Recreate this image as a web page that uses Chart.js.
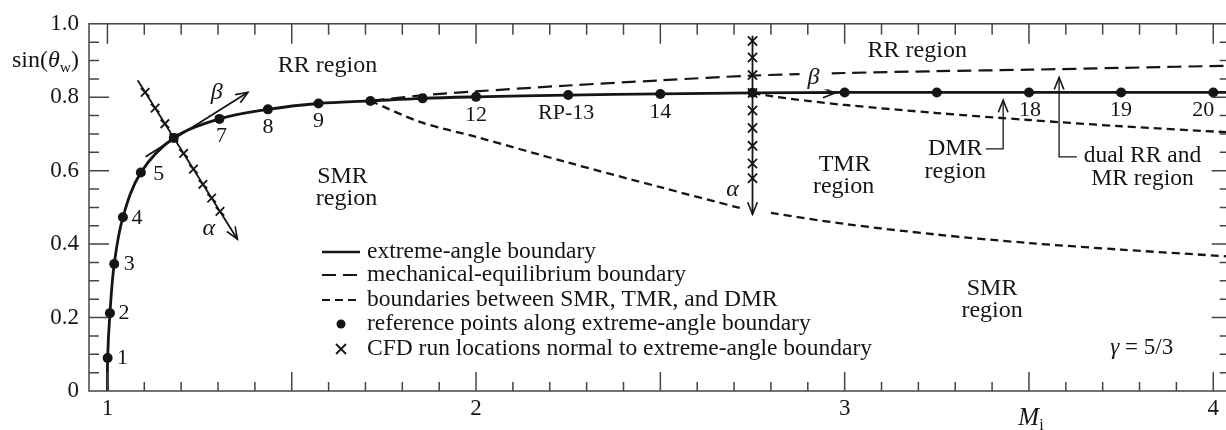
<!DOCTYPE html>
<html>
<head>
<meta charset="utf-8">
<script src="https://cdn.jsdelivr.net/npm/chart.js@4.4.0/dist/chart.umd.min.js"></script>
<style>
html, body { margin: 0; padding: 0; overflow: hidden; background: #fff; }
#wrap { position: relative; width: 1240px; height: 430px; }
</style>
</head>
<body>
<div id="wrap"><canvas id="machChart"></canvas></div>
<script>
// reference points along the extreme-angle boundary
var refNames = ['1', '2', '3', '4', '5', '', '7', '8', '9', '', '', '12', 'RP-13', '14', '', '', '', '18', '19', '20'];
var refM   = [1.0005, 1.0068, 1.0184, 1.042, 1.0907, 1.18, 1.3038, 1.4354, 1.5726, 1.7134, 1.855, 2.0, 2.25, 2.5, 2.75, 3.0, 3.25, 3.5, 3.75, 4.0];
var refSin = [0.090, 0.212, 0.346, 0.473, 0.595, 0.689, 0.741, 0.767, 0.783, 0.790, 0.797, 0.801, 0.806, 0.809, 0.812, 0.813, 0.813, 0.813, 0.813, 0.813];

// extreme-angle boundary (solid)
var extremeM   = [1.0].concat(refM, [4.05]);
var extremeSin = [0].concat(refSin, [0.813]);

// mechanical-equilibrium boundary (long dash)
var mechM   = [1.7134, 1.85, 2.0, 2.25, 2.5, 2.75, 3.0, 3.25, 3.5, 3.75, 4.05];
var mechSin = [0.790, 0.805, 0.816, 0.832, 0.846, 0.859, 0.866, 0.871, 0.875, 0.880, 0.886];

// SMR / TMR boundary (short dash), broken at the alpha arrow
var smrM   = [1.7134, 1.85, 2.0, 2.25, 2.5, 2.717, 2.75, 2.80, 3.0, 3.25, 3.5, 3.75, 4.05];
var smrSin = [0.790, 0.732, 0.692, 0.622, 0.555, 0.498, null, 0.485, 0.455, 0.426, 0.403, 0.385, 0.366];

// TMR / DMR boundary (short dash)
var dmrM   = [2.75, 2.8, 2.9, 3.0, 3.25, 3.5, 3.75, 4.05];
var dmrSin = [0.812, 0.803, 0.790, 0.779, 0.757, 0.738, 0.721, 0.704];

// CFD run locations normal to the boundary
var cfdSlantM   = [1.1022, 1.1293, 1.1558, 1.18, 1.2066, 1.2334, 1.2591, 1.2827, 1.3053];
var cfdSlantSin = [0.8135, 0.7703, 0.7278, 0.6892, 0.6468, 0.6041, 0.5630, 0.5251, 0.4892];
var cfdVertM    = [2.75, 2.75, 2.75, 2.75, 2.75, 2.75, 2.75, 2.75, 2.75];
var cfdVertSin  = [0.9532, 0.9081, 0.8603, 0.8116, 0.764, 0.7162, 0.6676, 0.6197, 0.5792];

// axis ticks
var xTicks = [];
for (var i = 10; i <= 40; i++) xTicks.push(i / 10);
var yTicks = [];
for (var j = 0; j <= 20; j++) yTicks.push(j / 20);

function pts(xs, ys) {
    return xs.map(function (x, k) { return { x: x, y: ys[k] }; });
}

var FONT = '"Liberation Serif", "Times New Roman", serif';
var INK = '#151515';

// annotations, in data units
var arrows = [
    { w: 1.8, p: [[1.082, 0.846], [1.3527, 0.4135]] },
    { w: 1.8, p: [[1.1034, 0.6378], [1.3812, 0.8135]] },
    { w: 1.8, p: [[2.75, 0.9676], [2.75, 0.4811]] },
    { w: 1.8, p: [[2.75, 0.8116], [2.974, 0.8116]] },
    { w: 1.3, p: [[3.383, 0.6595], [3.43, 0.6595], [3.43, 0.792]] },
    { w: 1.3, p: [[3.63, 0.6378], [3.5817, 0.6378], [3.5817, 0.854]] }
];
var texts = [
    { t: 'RR region', x: 1.597, y: 0.8865 },
    { t: 'SMR', x: 1.6377, y: 0.5838 },
    { t: 'region', x: 1.6485, y: 0.5243 },
    { t: 'RR region', x: 3.197, y: 0.927 },
    { t: 'TMR', x: 3.0, y: 0.6162 },
    { t: 'region', x: 2.997, y: 0.5568 },
    { t: 'DMR', x: 3.30, y: 0.6595 },
    { t: 'region', x: 3.30, y: 0.5973 },
    { t: 'dual RR and', x: 3.808, y: 0.6405, s: 23.5 },
    { t: 'MR region', x: 3.808, y: 0.5784, s: 23.5 },
    { t: 'SMR', x: 3.4, y: 0.2784 },
    { t: 'region', x: 3.4, y: 0.2189 },
    { t: 'α', x: 1.275, y: 0.443, it: true },
    { t: 'α', x: 2.696, y: 0.5486, it: true },
    { t: 'β', x: 1.2966, y: 0.8135, it: true },
    { t: 'β', x: 2.9156, y: 0.854, it: true, bg: true }
];
var labelOffsets = {
    '1': [15, 0], '2': [14, 0], '3': [15, 0], '4': [14, 1], '5': [18, 2],
    '7': [2, 17], '8': [0, 18], '9': [0, 18], '12': [0, 18], 'RP-13': [-2, 18],
    '14': [0, 18], '18': [1, 18], '19': [0, 18], '20': [-10, 18]
};

function drawParts(ctx, parts, x, y, size, align) {
    var total = 0;
    parts.forEach(function (p) {
        var s = p.sub ? size * 0.65 : size;
        ctx.font = (p.it ? 'italic ' : '') + s + 'px ' + FONT;
        p.w = ctx.measureText(p.t).width;
        total += p.w;
    });
    var cx = align === 'right' ? x - total : (align === 'left' ? x : x - total / 2);
    ctx.textAlign = 'left';
    ctx.textBaseline = 'middle';
    parts.forEach(function (p) {
        var s = p.sub ? size * 0.65 : size;
        ctx.font = (p.it ? 'italic ' : '') + s + 'px ' + FONT;
        ctx.fillText(p.t, cx, p.sub ? y + size * 0.3 : y);
        cx += p.w;
    });
}

function arrowHead(ctx, x0, y0, x1, y1) {
    var a = Math.atan2(y1 - y0, x1 - x0), L = 13, w = 0.38;
    ctx.beginPath();
    ctx.moveTo(x1 - L * Math.cos(a - w), y1 - L * Math.sin(a - w));
    ctx.lineTo(x1, y1);
    ctx.lineTo(x1 - L * Math.cos(a + w), y1 - L * Math.sin(a + w));
    ctx.stroke();
}

var decorPlugin = {
    id: 'decor',
    afterDatasetsDraw: function (chart) {
        var ctx = chart.ctx, xs = chart.scales.x, ys = chart.scales.y, a = chart.chartArea;
        ctx.save();

        // frame and inward ticks on all four sides
        ctx.strokeStyle = '#444';
        ctx.lineWidth = 1.5;
        ctx.strokeRect(a.left, a.top, a.right - a.left, a.bottom - a.top);
        ctx.beginPath();
        xTicks.forEach(function (v) {
            var px = xs.getPixelForValue(v);
            var len = Math.abs(v * 2 - Math.round(v * 2)) < 1e-6 ? 19 : 9;
            ctx.moveTo(px, a.bottom); ctx.lineTo(px, a.bottom - len);
            ctx.moveTo(px, a.top); ctx.lineTo(px, a.top + (len === 19 ? 20 : 11));
        });
        yTicks.forEach(function (v) {
            if (v === 0 || v === 1) return;
            var py = ys.getPixelForValue(v);
            var len = Math.abs(v * 5 - Math.round(v * 5)) < 1e-6 ? 20 : 10;
            ctx.moveTo(a.left, py); ctx.lineTo(a.left + len, py);
            ctx.moveTo(a.right, py); ctx.lineTo(a.right - (len === 20 ? 20 : 12), py);
        });
        ctx.stroke();

        // arrows
        ctx.strokeStyle = INK;
        arrows.forEach(function (ar) {
            ctx.lineWidth = ar.w;
            var p = ar.p.map(function (q) { return [xs.getPixelForValue(q[0]), ys.getPixelForValue(q[1])]; });
            ctx.beginPath();
            ctx.moveTo(p[0][0], p[0][1]);
            for (var k = 1; k < p.length; k++) ctx.lineTo(p[k][0], p[k][1]);
            ctx.stroke();
            var n = p.length;
            ctx.lineWidth = 1.6;
            arrowHead(ctx, p[n - 2][0], p[n - 2][1], p[n - 1][0], p[n - 1][1]);
        });

        // region texts
        ctx.fillStyle = INK;
        texts.forEach(function (t) {
            var px = xs.getPixelForValue(t.x), py = ys.getPixelForValue(t.y);
            if (t.bg) {
                ctx.fillStyle = '#fff';
                ctx.fillRect(px - 14, py - 12, 28, 24);
                ctx.fillStyle = INK;
            }
            drawParts(ctx, [{ t: t.t, it: t.it }], px, py, t.s || 24, 'center');
        });
        drawParts(ctx, [{ t: 'γ', it: true }, { t: ' = 5/3' }], xs.getPixelForValue(3.806), ys.getPixelForValue(0.1162), 23, 'center');

        // reference point numbers
        refNames.forEach(function (name, k) {
            if (!name) return;
            var off = labelOffsets[name];
            drawParts(ctx, [{ t: name }], xs.getPixelForValue(refM[k]) + off[0], ys.getPixelForValue(refSin[k]) + off[1], 22, 'center');
        });

        // axis titles
        drawParts(ctx, [{ t: 'sin(' }, { t: 'θ', it: true }, { t: 'w', sub: true }, { t: ')' }], 79, ys.getPixelForValue(0.9), 24, 'right');
        drawParts(ctx, [{ t: 'M', it: true }, { t: 'i', sub: true }], 1031, 418, 25, 'center');

        // legend
        var lx0 = 322, lx1 = 360, tx = 367, rows = [252, 275, 300, 324, 349];
        var names = ['extreme-angle boundary', 'mechanical-equilibrium boundary',
            'boundaries between SMR, TMR, and DMR', 'reference points along extreme-angle boundary',
            'CFD run locations normal to extreme-angle boundary'];
        ctx.strokeStyle = INK;
        [[], [14, 7], [8, 5]].forEach(function (d, k) {
            ctx.setLineDash(d);
            ctx.lineWidth = k === 0 ? 2.6 : 2.2;
            ctx.beginPath();
            ctx.moveTo(lx0, rows[k]); ctx.lineTo(lx1, rows[k]);
            ctx.stroke();
        });
        ctx.setLineDash([]);
        ctx.beginPath();
        ctx.arc(341, rows[3], 4.5, 0, Math.PI * 2);
        ctx.fill();
        ctx.lineWidth = 1.8;
        ctx.beginPath();
        ctx.moveTo(336, rows[4] - 5); ctx.lineTo(346, rows[4] + 5);
        ctx.moveTo(346, rows[4] - 5); ctx.lineTo(336, rows[4] + 5);
        ctx.stroke();
        names.forEach(function (n, k) {
            drawParts(ctx, [{ t: n }], tx, rows[k], 23.5, 'left');
        });

        ctx.restore();
    }
};

var machChart = new Chart(document.getElementById('machChart').getContext('2d'), {
    type: 'scatter',
    data: {
        datasets: [
            {
                label: 'reference points',
                data: pts(refM, refSin),
                showLine: false,
                pointRadius: 5,
                pointBackgroundColor: INK,
                pointBorderWidth: 0
            },
            {
                label: 'CFD runs (slanted)',
                data: pts(cfdSlantM, cfdSlantSin),
                showLine: false,
                pointStyle: 'crossRot',
                pointRadius: 6,
                pointBorderWidth: 1.8,
                pointBorderColor: INK
            },
            {
                label: 'CFD runs (vertical)',
                data: pts(cfdVertM, cfdVertSin),
                showLine: false,
                pointStyle: 'crossRot',
                pointRadius: 6.5,
                pointBorderWidth: 1.8,
                pointBorderColor: INK
            },
            {
                label: 'extreme-angle boundary',
                data: pts(extremeM, extremeSin),
                showLine: true,
                borderColor: INK,
                borderWidth: 2.8,
                tension: 0.35,
                pointRadius: 0
            },
            {
                label: 'mechanical-equilibrium boundary',
                data: pts(mechM, mechSin),
                showLine: true,
                borderColor: INK,
                borderWidth: 2.2,
                borderDash: [14, 7],
                tension: 0.3,
                pointRadius: 0
            },
            {
                label: 'SMR/TMR boundary',
                data: pts(smrM, smrSin),
                showLine: true,
                spanGaps: false,
                borderColor: INK,
                borderWidth: 2.3,
                borderDash: [8, 5],
                tension: 0.3,
                pointRadius: 0
            },
            {
                label: 'TMR/DMR boundary',
                data: pts(dmrM, dmrSin),
                showLine: true,
                borderColor: INK,
                borderWidth: 2.3,
                borderDash: [8, 5],
                tension: 0.3,
                pointRadius: 0
            }
        ]
    },
    options: {
        responsive: true,
        maintainAspectRatio: false,
        animation: false,
        events: [],
        layout: { padding: { top: 21, right: 6, left: 0, bottom: 0 } },
        plugins: { legend: { display: false }, tooltip: { enabled: false } },
        scales: {
            x: {
                type: 'linear',
                min: 0.95,
                max: 4.05,
                grid: { display: false, drawTicks: false },
                border: { display: false },
                afterBuildTicks: function (scale) {
                    scale.ticks = xTicks.map(function (v) { return { value: v }; });
                },
                afterFit: function (scale) { scale.height = 39; },
                ticks: {
                    autoSkip: false,
                    maxRotation: 0,
                    padding: 4,
                    color: INK,
                    font: { family: FONT, size: 23 },
                    callback: function (v) {
                        return Math.abs(v - Math.round(v)) < 1e-6 ? String(Math.round(v)) : '';
                    }
                }
            },
            y: {
                type: 'linear',
                min: 0,
                max: 1,
                grid: { display: false, drawTicks: false },
                border: { display: false },
                afterBuildTicks: function (scale) {
                    scale.ticks = yTicks.map(function (v) { return { value: v }; });
                },
                afterFit: function (scale) { scale.width = 89; },
                ticks: {
                    autoSkip: false,
                    padding: 10,
                    color: INK,
                    font: { family: FONT, size: 23 },
                    callback: function (v) {
                        if (Math.abs(v * 5 - Math.round(v * 5)) > 1e-6) return '';
                        return v === 0 ? '0' : v.toFixed(1);
                    }
                }
            }
        }
    },
    plugins: [decorPlugin]
});
</script>
</body>
</html>
